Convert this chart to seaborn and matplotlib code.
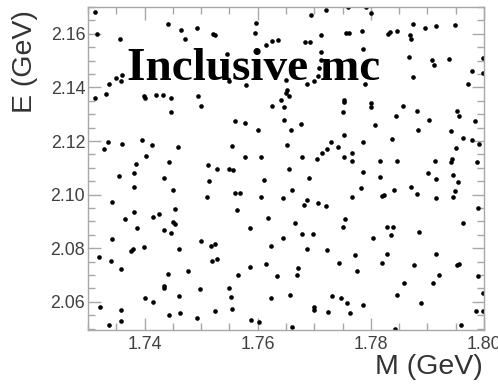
import numpy as np
import pandas as pd
import matplotlib
matplotlib.use("Agg")
import matplotlib.pyplot as plt
from matplotlib.ticker import MultipleLocator
import seaborn as sns

# Reconstructed candidate masses M and energies E (GeV), inclusive MC sample
mass = [
    1.7313, 1.7316, 1.7356, 1.7442, 1.7465, 1.7472, 1.7493, 1.7521, 1.7524, 1.7312,
    1.7331, 1.7338, 1.7350, 1.7358, 1.7360, 1.7399, 1.7400, 1.7421, 1.7432, 1.7446,
    1.7447, 1.7495, 1.7499,
    1.7545, 1.7694, 1.7721, 1.7759, 1.7597, 1.7596, 1.7614, 1.7625, 1.7635, 1.7684,
    1.7693, 1.7711, 1.7756, 1.7762, 1.7712, 1.7712, 1.7550, 1.7579, 1.7650, 1.7688,
    1.7699, 1.7706, 1.7709, 1.7652, 1.7650, 1.7655, 1.7642, 1.7625, 1.7647, 1.7753,
    1.7753, 1.7750,
    1.7792, 1.7801, 1.7784, 1.7831, 1.7834, 1.7846, 1.7875, 1.7895, 1.7916, 1.7949,
    1.7869, 1.7871, 1.7786, 1.7868, 1.7908, 1.7912, 1.7939, 1.7998, 1.7978, 1.7998,
    1.7789, 1.7971, 1.7874, 1.7800, 1.7801, 1.7856, 1.7881, 1.7952,
    1.7329, 1.7336, 1.7360, 1.7396, 1.7413, 1.7459, 1.7403, 1.7384, 1.7444, 1.7354,
    1.7381, 1.7434, 1.7381, 1.7450, 1.7512, 1.7528, 1.7514, 1.7510, 1.7343, 1.7381,
    1.7454, 1.7366, 1.7415, 1.7425, 1.7450, 1.7453,
    1.7559, 1.7578, 1.7600, 1.7647, 1.7659, 1.7676, 1.7753, 1.7554, 1.7652, 1.7729,
    1.7722, 1.7714, 1.7705, 1.7742, 1.7753, 1.7767, 1.7767, 1.7578, 1.7606, 1.7679,
    1.7550, 1.7557, 1.7655, 1.7611, 1.7691, 1.7559, 1.7569, 1.7606, 1.7644, 1.7661,
    1.7688, 1.7681, 1.7707, 1.7721, 1.7767, 1.7564, 1.7619, 1.7666, 1.7754,
    1.7845, 1.7903, 1.7956, 1.7984, 1.7807, 1.7884, 1.7941, 1.7962, 1.7979, 1.7991,
    1.7838, 1.7786, 1.7950, 1.7816, 1.7846, 1.7914, 1.7944, 1.7942, 1.7987, 1.7786,
    1.7816, 1.7901, 1.7916, 1.7945, 1.7954, 1.7782, 1.7841, 1.7871, 1.7881, 1.7819,
    1.7824, 1.7916, 1.7945, 1.7949, 1.7990, 1.7963,
    1.7386, 1.7435, 1.7446, 1.7342, 1.7319, 1.7341, 1.7376, 1.7379, 1.7399, 1.7460,
    1.7500, 1.7518, 1.7524, 1.7519, 1.7528, 1.7358, 1.7442, 1.7476, 1.7434, 1.7434,
    1.7400, 1.7415, 1.7460, 1.7498, 1.7321, 1.7358, 1.7359, 1.7338, 1.7443, 1.7462,
    1.7493, 1.7525,
    1.7587, 1.7678, 1.7698, 1.7751, 1.7624, 1.7644, 1.7688, 1.7723, 1.7772, 1.7587,
    1.7614, 1.7634, 1.7671, 1.7669, 1.7743, 1.7566, 1.7550, 1.7552, 1.7555, 1.7624,
    1.7657, 1.7731, 1.7748, 1.7758, 1.7700, 1.7700, 1.7725, 1.7763, 1.7589, 1.7602,
    1.7660,
    1.7828, 1.7839, 1.7836, 1.7885, 1.7804, 1.7829, 1.7915, 1.7819, 1.7876, 1.7952,
    1.7955, 1.7776, 1.7921, 1.7989, 1.7859, 1.7909, 1.7846, 1.7999, 1.7786, 1.7889,
    1.7986, 1.7998, 1.7960, 1.7843,
]

energy = [
    2.1681, 2.1600, 2.1581, 2.1635, 2.1614, 2.1579, 2.1622, 2.1600, 2.1595, 2.1359,
    2.1376, 2.1413, 2.1435, 2.1423, 2.1448, 2.1367, 2.1359, 2.1373, 2.1373, 2.1359,
    2.1309, 2.1367, 2.1332,
    2.1524, 2.1670, 2.1687, 2.1699, 2.1639, 2.1604, 2.1560, 2.1573, 2.1576, 2.1570,
    2.1570, 2.1594, 2.1604, 2.1604, 2.1533, 2.1504, 2.1425, 2.1410, 2.1429, 2.1413,
    2.1425, 2.1442, 2.1473, 2.1389, 2.1379, 2.1367, 2.1354, 2.1329, 2.1327, 2.1354,
    2.1344, 2.1307,
    2.1699, 2.1679, 2.1612, 2.1600, 2.1606, 2.1610, 2.1637, 2.1622, 2.1629, 2.1632,
    2.1595, 2.1579, 2.1545, 2.1514, 2.1504, 2.1483, 2.1506, 2.1510, 2.1463, 2.1454,
    2.1413, 2.1413, 2.1439, 2.1342, 2.1326, 2.1329, 2.1313, 2.1311,
    2.1171, 2.1198, 2.1189, 2.1202, 2.1186, 2.1179, 2.1145, 2.1115, 2.1120, 2.1070,
    2.1081, 2.1063, 2.1028, 2.1019, 2.1110, 2.1095, 2.1050, 2.0992, 2.0974, 2.0937,
    2.0945, 2.0909, 2.0915, 2.0927, 2.0899, 2.0891,
    2.1273, 2.1267, 2.1242, 2.1280, 2.1240, 2.1265, 2.1223, 2.1180, 2.1184, 2.1195,
    2.1170, 2.1155, 2.1134, 2.1176, 2.1142, 2.1155, 2.1124, 2.1139, 2.1139, 2.1139,
    2.1096, 2.1093, 2.1095, 2.1053, 2.1063, 2.1005, 2.1005, 2.0992, 2.0989, 2.1019,
    2.0980, 2.0960, 2.0968, 2.0957, 2.0990, 2.0943, 2.0912, 2.0893, 2.0910,
    2.1292, 2.1280, 2.1292, 2.1273, 2.1258, 2.1242, 2.1236, 2.1211, 2.1202, 2.1190,
    2.1207, 2.1195, 2.1174, 2.1127, 2.1127, 2.1126, 2.1133, 2.1120, 2.1120, 2.1084,
    2.1066, 2.1079, 2.1060, 2.1075, 2.1048, 2.1026, 2.1019, 2.1030, 2.1004, 2.0994,
    2.0999, 2.0988, 2.0993, 2.1014, 2.0949, 2.0896,
    2.0877, 2.0868, 2.0858, 2.0834, 2.0768, 2.0753, 2.0790, 2.0797, 2.0803, 2.0796,
    2.0828, 2.0808, 2.0814, 2.0752, 2.0760, 2.0723, 2.0704, 2.0716, 2.0660, 2.0651,
    2.0614, 2.0599, 2.0621, 2.0649, 2.0581, 2.0569, 2.0529, 2.0513, 2.0550, 2.0560,
    2.0541, 2.0565,
    2.0874, 2.0852, 2.0853, 2.0878, 2.0807, 2.0839, 2.0797, 2.0793, 2.0775, 2.0731,
    2.0740, 2.0696, 2.0725, 2.0702, 2.0746, 2.0700, 2.0652, 2.0617, 2.0574, 2.0616,
    2.0627, 2.0622, 2.0614, 2.0595, 2.0579, 2.0571, 2.0563, 2.0558, 2.0531, 2.0524,
    2.0506,
    2.0878, 2.0878, 2.0851, 2.0861, 2.0839, 2.0778, 2.0780, 2.0745, 2.0738, 2.0736,
    2.0741, 2.0715, 2.0702, 2.0697, 2.0672, 2.0671, 2.0626, 2.0634, 2.0589, 2.0596,
    2.0565, 2.0566, 2.0513, 2.0498,
]

x_ticks = [1.74, 1.76, 1.78, 1.80]
y_ticks = [2.06, 2.08, 2.10, 2.12, 2.14, 2.16]
x_label = "M (GeV)"
y_label = "E (GeV)"
title_text = "Inclusive mc"

df = pd.DataFrame({"M": mass, "E": energy})

sns.set_theme(style="ticks")
plt.rcParams["font.family"] = ["Liberation Sans", "DejaVu Sans"]

fig = plt.figure(figsize=(4.98, 3.84), dpi=100)
ax = fig.add_axes([88 / 498, 1 - 330 / 384, 396 / 498, 323 / 384])

sns.scatterplot(data=df, x="M", y="E", ax=ax, color="black", s=11,
                linewidth=0, marker="o", legend=False, zorder=2)

ax.set_xlim(1.73, 1.80)
ax.set_ylim(2.0495, 2.1700)
ax.set_xticks(x_ticks)
ax.set_xticklabels([f"{v:.2f}" for v in x_ticks])
ax.set_yticks(y_ticks)
ax.set_yticklabels([f"{v:.2f}" for v in y_ticks])
ax.xaxis.set_minor_locator(MultipleLocator(0.005))
ax.yaxis.set_minor_locator(MultipleLocator(0.005))

spine_col = "#a8a8a8"
for sp in ax.spines.values():
    sp.set_color(spine_col)
    sp.set_linewidth(1.0)

ax.tick_params(which="both", direction="in", top=True, right=True,
               color=spine_col, width=1.0, labelcolor="#404040", labelsize=12.8)
ax.tick_params(which="major", length=9)
ax.tick_params(which="minor", length=5)
ax.tick_params(axis="y", pad=2)
ax.tick_params(axis="x", pad=4)

ax.set_xlabel(x_label, fontsize=20.5, color="#333333", loc="right")
ax.set_ylabel(y_label, fontsize=20.5, color="#333333", loc="top")
ax.xaxis.set_label_coords(0.997, -0.075)
ax.yaxis.set_label_coords(-0.127, 0.991)

ax.text(0.098, 0.774, title_text, transform=ax.transAxes,
        fontsize=34, fontweight="bold", family="Liberation Serif",
        color="black", ha="left", va="baseline", zorder=5)

fig.savefig("out.png", dpi=100)
